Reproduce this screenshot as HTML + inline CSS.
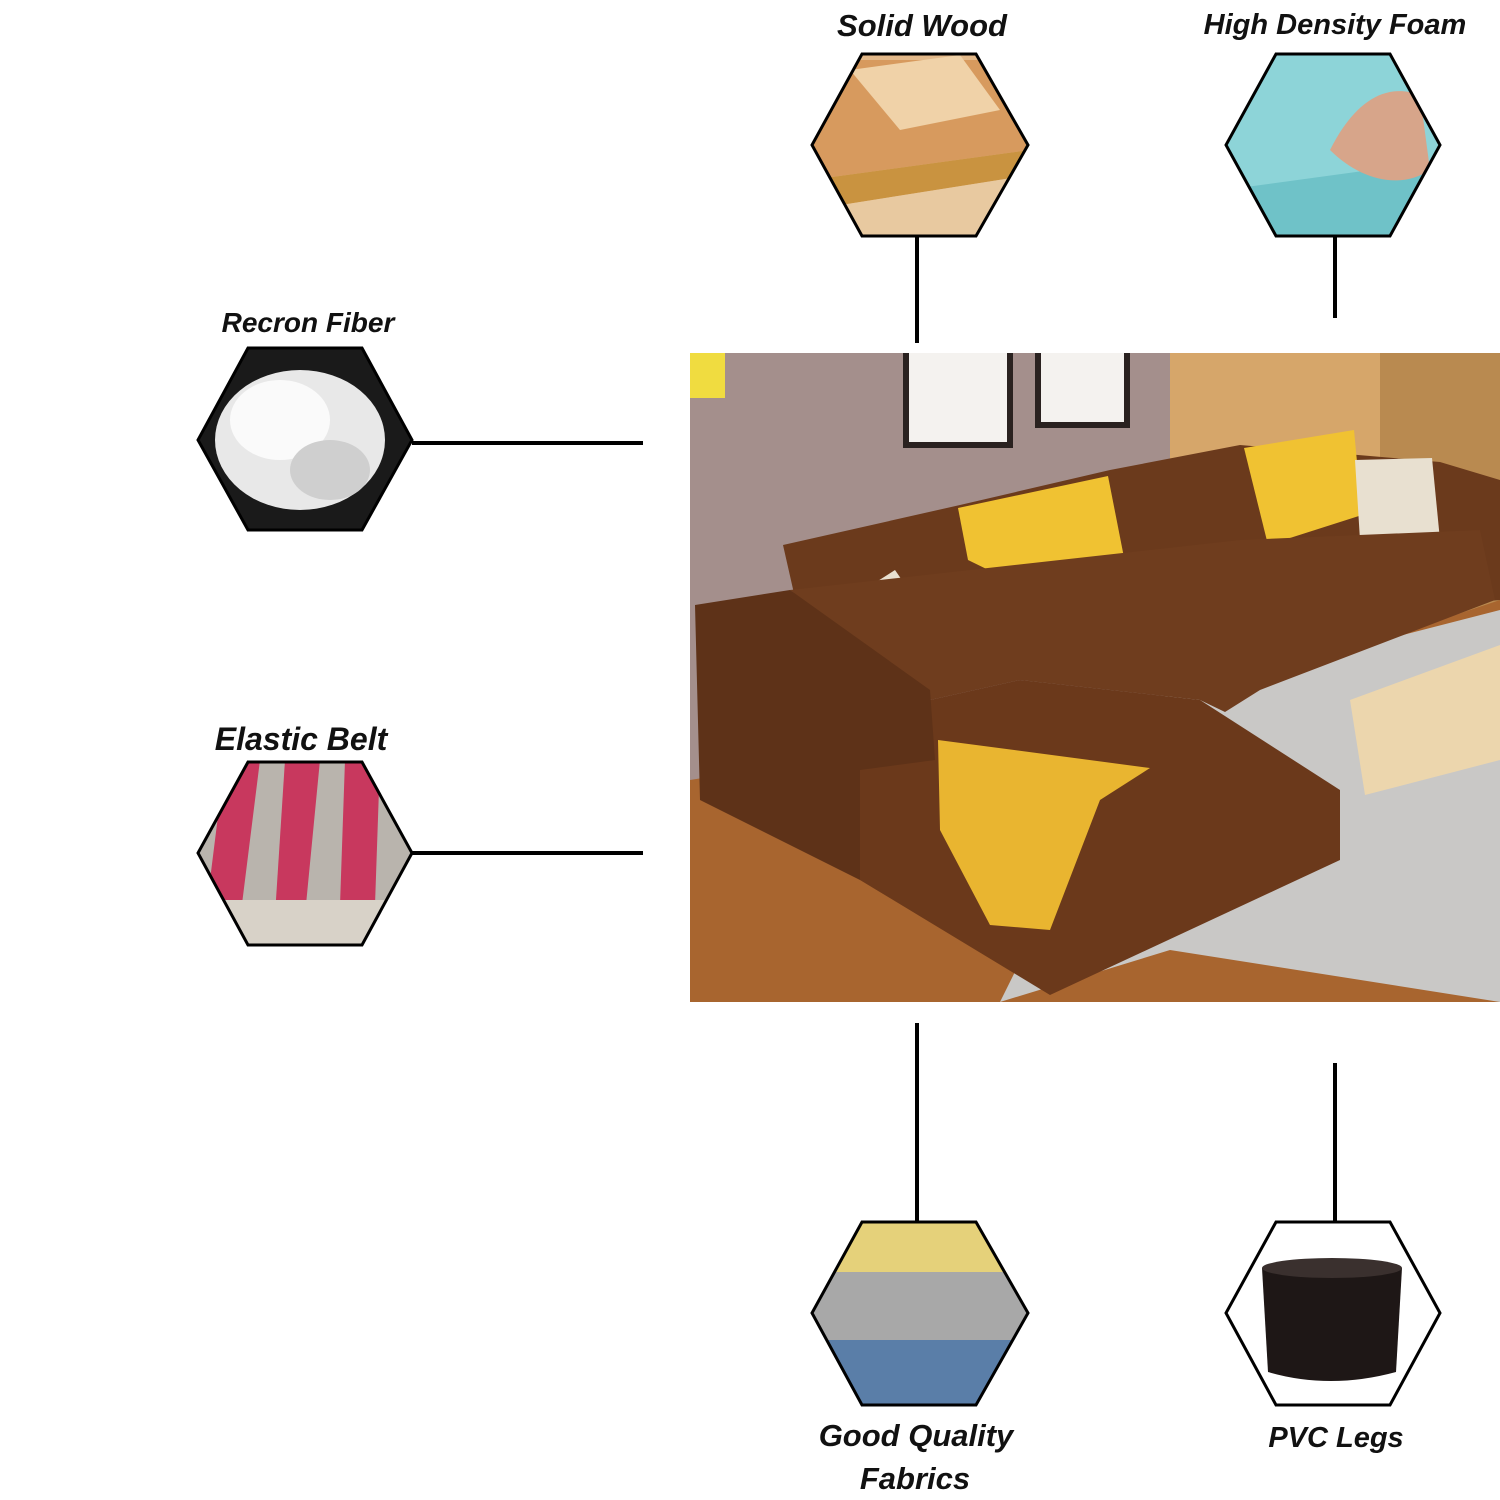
<!DOCTYPE html>
<html><head><meta charset="utf-8"><style>
html,body{margin:0;padding:0;background:#fff;}
svg{display:block}
text{font-family:"Liberation Sans",sans-serif;font-weight:bold;font-style:italic;fill:#111;}
</style></head><body>
<svg width="1500" height="1500" viewBox="0 0 1500 1500" xmlns="http://www.w3.org/2000/svg">
<defs>
<clipPath id="h1"><polygon points="862,54 976,54 1028,145 976,236 862,236 812,145"/></clipPath>
<clipPath id="h2"><polygon points="1276,54 1390,54 1440,145 1390,236 1276,236 1226,145"/></clipPath>
<clipPath id="h3"><polygon points="248,348 362,348 412,440 362,530 248,530 198,440"/></clipPath>
<clipPath id="h4"><polygon points="248,762 362,762 412,853 362,945 248,945 198,853"/></clipPath>
<clipPath id="h5"><polygon points="862,1222 976,1222 1028,1313 976,1405 862,1405 812,1313"/></clipPath>
<clipPath id="h6"><polygon points="1276,1222 1390,1222 1440,1313 1390,1405 1276,1405 1226,1313"/></clipPath>
<clipPath id="ph"><rect x="690" y="353" width="810" height="649"/></clipPath>
</defs>

<text x="922" y="36" font-size="31" text-anchor="middle">Solid Wood</text>
<text x="1335" y="34" font-size="29" text-anchor="middle">High Density Foam</text>
<text x="308" y="332" font-size="28" text-anchor="middle">Recron Fiber</text>
<text x="301" y="750" font-size="32" text-anchor="middle">Elastic Belt</text>
<text x="916" y="1446" font-size="31" text-anchor="middle">Good Quality</text>
<text x="915" y="1489" font-size="31" text-anchor="middle">Fabrics</text>
<text x="1336" y="1447" font-size="29" text-anchor="middle">PVC Legs</text>

<g stroke="#000" stroke-width="4">
<line x1="917" y1="237" x2="917" y2="343"/>
<line x1="1335" y1="237" x2="1335" y2="318"/>
<line x1="412" y1="443" x2="643" y2="443"/>
<line x1="412" y1="853" x2="643" y2="853"/>
<line x1="917" y1="1023" x2="917" y2="1222"/>
<line x1="1335" y1="1063" x2="1335" y2="1222"/>
</g>

<g clip-path="url(#h1)">
<rect x="810" y="50" width="220" height="190" fill="#e3b98a"/>
<polygon points="810,60 1030,60 1030,150 810,180" fill="#d79a5e"/>
<polygon points="850,70 960,55 1000,110 900,130" fill="#f0d2a8"/>
<polygon points="810,180 1030,150 1030,175 810,210" fill="#c99340"/>
<polygon points="810,210 1030,175 1030,240 810,240" fill="#e8c9a0"/>
</g>
<polygon points="862,54 976,54 1028,145 976,236 862,236 812,145" fill="none" stroke="#000" stroke-width="3"/>
<g clip-path="url(#h2)">
<rect x="1224" y="50" width="220" height="190" fill="#8dd4d8"/>
<polygon points="1224,190 1444,160 1444,240 1224,240" fill="#6fc2c8"/>
<path d="M1330,150 C1350,110 1380,80 1420,95 L1430,170 C1400,190 1360,180 1330,150Z" fill="#d7a58a"/>
</g>
<polygon points="1276,54 1390,54 1440,145 1390,236 1276,236 1226,145" fill="none" stroke="#000" stroke-width="3"/>
<g clip-path="url(#h3)">
<rect x="196" y="345" width="220" height="190" fill="#1a1a1a"/>
<ellipse cx="300" cy="440" rx="85" ry="70" fill="#e8e8e8"/>
<ellipse cx="280" cy="420" rx="50" ry="40" fill="#fafafa"/>
<ellipse cx="330" cy="470" rx="40" ry="30" fill="#cfcfcf"/>
</g>
<polygon points="248,348 362,348 412,440 362,530 248,530 198,440" fill="none" stroke="#000" stroke-width="3"/>
<g clip-path="url(#h4)">
<rect x="196" y="758" width="220" height="190" fill="#b9b4ad"/>
<polygon points="225,760 260,760 240,920 205,920" fill="#c8385e"/>
<polygon points="285,760 320,760 305,915 275,915" fill="#c8385e"/>
<polygon points="345,760 380,760 375,905 340,905" fill="#c8385e"/>
<rect x="196" y="900" width="220" height="50" fill="#d8d2c8"/>
</g>
<polygon points="248,762 362,762 412,853 362,945 248,945 198,853" fill="none" stroke="#000" stroke-width="3"/>
<g clip-path="url(#h5)">
<rect x="810" y="1220" width="220" height="190" fill="#e5d17a"/>
<rect x="810" y="1272" width="220" height="80" fill="#a8a8a8"/>
<rect x="810" y="1340" width="220" height="70" fill="#5a7ea8"/>
</g>
<polygon points="862,1222 976,1222 1028,1313 976,1405 862,1405 812,1313" fill="none" stroke="#000" stroke-width="3"/>
<g clip-path="url(#h6)">
<rect x="1224" y="1220" width="220" height="190" fill="#fff"/>
<path d="M1262,1268 L1402,1268 L1396,1372 Q1330,1390 1268,1372Z" fill="#1e1716"/>
<ellipse cx="1332" cy="1268" rx="70" ry="10" fill="#3a302e"/>
</g>
<polygon points="1276,1222 1390,1222 1440,1313 1390,1405 1276,1405 1226,1313" fill="none" stroke="#000" stroke-width="3"/>

<g clip-path="url(#ph)">
<rect x="690" y="353" width="810" height="649" fill="#a48f8c"/>
<rect x="1170" y="353" width="330" height="260" fill="#d6a66a"/>
<rect x="1380" y="353" width="120" height="260" fill="#b98a50"/>
<rect x="903" y="353" width="110" height="95" fill="#2a2220"/>
<rect x="909" y="353" width="98" height="89" fill="#f4f2ef"/>
<rect x="1035" y="353" width="95" height="75" fill="#2a2220"/>
<rect x="1041" y="353" width="83" height="69" fill="#f4f2ef"/>
<rect x="690" y="353" width="35" height="45" fill="#f0dc40"/>
<polygon points="690,780 1200,700 1500,600 1500,1002 690,1002" fill="#a8652f"/>
<polygon points="1150,700 1500,610 1500,1002 1170,950 1000,1002" fill="#c9c8c6"/>
<polygon points="1350,700 1500,645 1500,760 1365,795" fill="#ecd6ad"/>
<polygon points="783,545 960,505 1110,470 1240,445 1440,462 1500,480 1500,600 1260,620 1000,640 800,620" fill="#6b3a1c"/>
<polygon points="958,508 1108,476 1130,588 1075,612 968,560" fill="#f0c232"/>
<polygon points="1244,448 1354,430 1362,515 1268,545" fill="#f0c232"/>
<polygon points="1355,460 1432,458 1440,540 1360,540" fill="#e8e0d0"/>
<polygon points="848,600 895,570 950,650 920,690 860,640" fill="#e8e0d0"/>
<polygon points="790,590 1240,540 1480,530 1495,600 1260,690 1225,712 1200,700 1020,680 930,700" fill="#6f3d1e"/>
<polygon points="860,760 930,700 1020,680 1200,700 1340,790 1340,860 1050,995 860,880" fill="#6b391b"/>
<polygon points="695,605 790,590 930,690 935,760 860,770 860,880 700,800" fill="#5e3218"/>
<polygon points="938,740 1150,768 1100,800 1050,930 990,925 940,830" fill="#e9b530"/>
</g>
</svg>
</body></html>
